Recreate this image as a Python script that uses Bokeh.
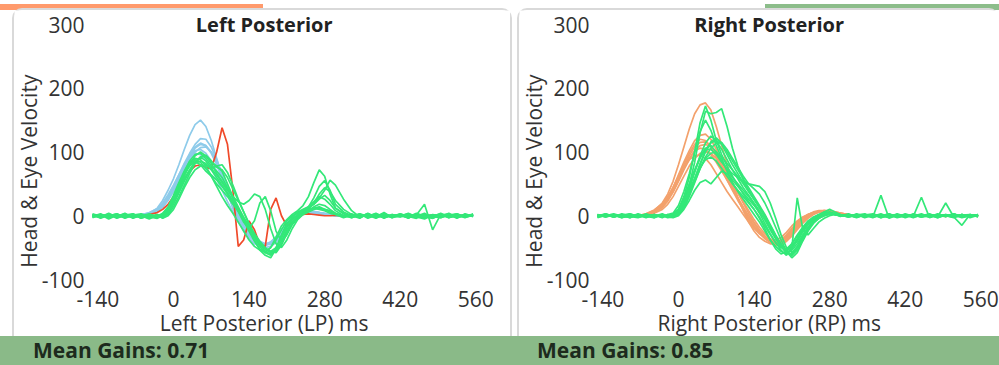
import math
from bokeh.plotting import figure
from bokeh.models import Label, Div, Range1d, FixedTicker, LinearAxis
from bokeh.layouts import column, row
from bokeh.embed import file_html
from bokeh.resources import INLINE

FONT = "Open Sans"

# ---------------- data ----------------
T = [-150, -135, -120, -105, -90, -75, -60, -45, -30,
     -20, -10, 0, 10, 20, 30, 40, 50, 60, 70, 80, 90,
     100, 110, 120, 130, 140, 150, 160, 170, 180, 190, 200, 210,
     220, 230, 240, 250, 260, 270, 280, 290, 300,
     315, 330, 345, 360, 375, 390, 405, 420, 435, 450, 465, 480, 495, 510, 525, 540, 555]

X_TICKS = [-140, 0, 140, 280, 420, 560]
Y_TICKS = [-100, 0, 100, 200, 300]

LEFT_TITLE = "Left Posterior"
RIGHT_TITLE = "Right Posterior"
LEFT_XLABEL = "Left Posterior (LP) ms"
RIGHT_XLABEL = "Right Posterior (RP) ms"
Y_LABEL = "Head & Eye Velocity"
LEFT_GAIN = "Mean Gains: 0.71"
RIGHT_GAIN = "Mean Gains: 0.85"
TOP_GAIN = "Mean Gains: 1.13"

# left panel, head (blue)
left_head = [
    [1, -1, 2, 0, -1, 1, 2, 4, 12,
     24, 40, 58, 80, 104, 126, 143, 150, 140, 118, 90, 62,
     36, 12, -8, -24, -36, -44, -48, -47, -42, -33, -22, -12,
     -4, 2, 5, 6, 6, 5, 3, 2, 1,
     0, 1, -1, 0, 1, 0, -1, 1, 0, -1, 0, 1, 0, -1, 1, 0, 1],
    [0, 2, -1, 1, 0, -2, 1, 3, 9,
     18, 30, 46, 64, 82, 98, 112, 121, 120, 108, 88, 64,
     40, 18, 0, -16, -28, -38, -44, -46, -44, -37, -26, -14,
     -5, 1, 4, 6, 5, 4, 3, 1, 0,
     1, -1, 0, 1, 0, -1, 0, 1, -1, 0, 1, 0, -1, 0, 1, -1, 0],
    [-1, 1, 0, -1, 2, 0, -1, 2, 7,
     15, 27, 42, 60, 78, 95, 108, 114, 110, 100, 84, 66,
     46, 26, 6, -12, -26, -36, -42, -45, -43, -38, -30, -18,
     -8, 0, 4, 6, 7, 5, 3, 2, 1,
     0, -1, 1, 0, -1, 1, 0, -1, 0, 1, 0, -1, 1, 0, -1, 0, 1],
    [1, 0, -2, 1, 0, 1, 0, 2, 6,
     13, 24, 38, 54, 72, 88, 100, 107, 108, 100, 86, 68,
     48, 28, 10, -6, -20, -32, -40, -44, -45, -40, -32, -20,
     -10, -2, 3, 5, 6, 5, 4, 2, 0,
     1, 0, -1, 1, 0, 0, -1, 1, 0, -1, 1, 0, 0, -1, 1, 0, -1],
    [0, -1, 1, 0, -1, 0, 2, 3, 8,
     16, 28, 44, 62, 80, 94, 102, 104, 98, 86, 70, 52,
     34, 16, 0, -14, -26, -36, -42, -44, -42, -36, -26, -14,
     -6, 0, 4, 5, 5, 4, 2, 1, 0,
     -1, 0, 1, 0, -1, 0, 1, 0, -1, 1, 0, -1, 0, 1, 0, -1, 0],
    [1, 0, -1, 2, 0, -1, 1, 5, 11,
     20, 33, 48, 64, 80, 92, 98, 96, 88, 74, 58, 40,
     22, 6, -10, -22, -32, -40, -44, -45, -41, -33, -22, -11,
     -3, 2, 4, 5, 4, 3, 2, 1, 0,
     0, 1, 0, -1, 0, 1, -1, 0, 1, 0, -1, 0, 1, 0, -1, 1, 0],
    [-1, 0, 1, -1, 1, 0, 1, 3, 8,
     15, 26, 40, 57, 76, 93, 106, 112, 110, 98, 80, 58,
     36, 14, -4, -20, -32, -40, -46, -50, -48, -42, -32, -20,
     -9, -1, 4, 6, 6, 5, 3, 2, 1,
     0, 0, -1, 1, 0, -1, 0, 1, 0, -1, 0, 1, -1, 0, 1, 0, 0],
]

# left panel, outlier head trace (red)
left_red = [0, 1, -1, 0, 1, 0, 1, 2, 5,
            10, 18, 30, 44, 58, 70, 78, 80, 76, 74, 100, 138,
            112, 40, -48, -38, -8, -22, -46, -48, 10, 28, 0, -16,
            -10, -2, 2, 3, 2, 1, 0, 0, 1,
            0, -1, 0, 1, 0, -1, 0, 1, 0, 0, -1, 1, 0, -1, 0, 1, 0]

# left panel, eye (green)
left_eye = [
    [-3, 2, -5, 1, -2, 3, -4, 0, -2,
     4, 14, 32, 52, 70, 86, 96, 98, 90, 78, 70, 60,
     44, 28, 10, -8, -24, -40, -52, -58, -50, -34, -16, -6,
     2, 8, 16, 30, 52, 72, 62, 34, 12,
     4, -2, 3, -4, 1, -3, 2, -1, 4, -2, -5, 1, -3, 2, -4, 3, -1],
    [2, -4, 1, -2, 4, -3, 0, -5, 1,
     -2, 6, 20, 38, 56, 72, 84, 92, 86, 74, 78, 70,
     50, 30, 12, -6, -22, -38, -54, -62, -66, -52, -30, -12,
     -4, 0, 6, 14, 28, 46, 55, 40, 18,
     6, 0, -4, 3, -2, 5, -3, 1, -2, 4, -1, -4, 2, -3, 1, -2, 3],
    [-1, 3, -3, 2, -4, 1, 3, -2, -4,
     0, 10, 26, 46, 64, 80, 88, 84, 74, 64, 56, 46,
     34, 20, 6, -10, -20, -8, 20, 30, 8, -24, -40, -30,
     -14, -4, 2, 6, 10, 12, 10, 8, 4,
     0, -3, 2, -1, 3, -4, 2, 0, -3, 1, 18, -22, 2, -1, 3, -2, 0],
    [1, -2, 4, -3, 0, 2, -4, 1, -1,
     -3, 2, 14, 30, 48, 66, 82, 92, 95, 86, 76, 72,
     60, 42, 24, 6, -12, -28, -44, -56, -60, -54, -40, -22,
     -10, -2, 4, 10, 20, 34, 44, 38, 24,
     10, 2, -3, 4, -2, 1, -3, 3, -1, -4, 2, -2, 4, -3, 1, -1, 2],
    [-2, 1, -1, 3, -3, 0, 2, -3, 0,
     3, 12, 30, 50, 66, 78, 85, 80, 70, 62, 50, 40,
     30, 18, 8, -4, -16, -28, -40, -50, -56, -58, -46, -28,
     -12, -2, 4, 8, 12, 14, 10, 6, 2,
     -1, 3, -2, 1, -4, 2, -1, 3, -3, 0, 2, -1, -3, 1, 3, -2, 0],
    [3, -1, 2, -4, 1, -2, 0, 3, -3,
     1, 8, 24, 42, 62, 80, 94, 100, 94, 82, 66, 54,
     42, 30, 14, -2, -18, -34, -48, -58, -62, -50, -32, -14,
     -2, 6, 10, 14, 18, 26, 32, 24, 12,
     3, -3, 1, -1, 4, -2, 0, 2, -4, 3, -1, 1, -2, 4, -3, 0, 1],
    [0, -3, 3, -1, 2, -4, 1, -1, 2,
     -4, 0, 10, 26, 44, 60, 72, 78, 80, 74, 64, 52,
     40, 30, 22, 18, 24, 34, 30, 10, -20, -44, -50, -38,
     -20, -6, 2, 8, 14, 18, 16, 10, 4,
     -2, 2, -1, 3, -3, 1, -2, 0, 3, -1, -3, 2, 0, -2, 1, -3, 2],
    [-1, 2, -2, 0, 3, -3, 2, 0, -1,
     2, 10, 28, 48, 68, 84, 90, 88, 78, 62, 46, 30,
     16, 4, -10, -24, -38, -48, -54, -56, -50, -38, -22, -8,
     0, 4, 8, 10, 12, 10, 8, 4, 2,
     -3, 1, 2, -2, 0, 3, -1, -2, 1, -1, 4, -3, 0, 2, -2, 1, -1],
    [2, -2, 0, 3, -2, 1, -1, -3, 1,
     -1, 4, 18, 36, 54, 70, 84, 92, 94, 84, 78, 80,
     68, 48, 26, 6, -14, -30, -44, -52, -58, -56, -44, -26,
     -10, 0, 6, 12, 18, 28, 40, 56, 48,
     26, 8, -2, 3, -3, 2, -1, 1, -3, 2, -2, 0, 3, -1, -2, 2, 0],
    [-2, 0, 2, -2, 1, 3, -3, 2, -1,
     1, 6, 20, 40, 58, 72, 82, 86, 82, 72, 60, 48,
     36, 24, 10, -4, -18, -30, -42, -52, -56, -50, -36, -18,
     -6, 2, 8, 14, 22, 30, 26, 18, 8,
     0, -2, 3, -1, 2, -3, 1, -1, 2, -2, 0, -4, 1, 3, -2, 0, 2],
]

# right panel, head (orange)
right_head = [
    [0, 1, -1, 0, 1, 0, 3, 8, 20,
     34, 54, 80, 108, 136, 160, 174, 177, 166, 140, 110, 80,
     52, 28, 8, -10, -24, -34, -40, -44, -44, -40, -32, -22,
     -12, -4, 2, 6, 8, 8, 7, 5, 4,
     2, 1, 0, 1, -1, 0, 1, 0, -1, 0, 1, 0, -1, 1, 0, 0, 1],
    [1, 0, -1, 1, 0, 1, 2, 6, 16,
     28, 44, 64, 84, 102, 118, 126, 128, 120, 104, 84, 64,
     46, 28, 12, -4, -16, -26, -34, -40, -42, -40, -34, -24,
     -14, -6, 0, 4, 6, 7, 6, 5, 3,
     2, 0, 1, -1, 0, 1, 0, -1, 1, 0, -1, 0, 1, 0, -1, 1, 0],
    [-1, 0, 1, 0, -1, 1, 2, 7, 17,
     28, 44, 62, 80, 98, 112, 120, 118, 108, 92, 74, 56,
     40, 24, 10, -4, -16, -26, -34, -40, -42, -38, -30, -20,
     -10, -3, 2, 5, 7, 7, 6, 4, 3,
     1, 0, -1, 0, 1, 0, -1, 1, 0, 1, 0, -1, 0, 1, 0, -1, 0],
    [0, -1, 0, 1, 0, -1, 1, 5, 13,
     23, 37, 54, 72, 88, 102, 110, 112, 108, 98, 84, 68,
     52, 36, 20, 4, -10, -22, -32, -40, -44, -44, -38, -28,
     -18, -8, -1, 4, 7, 8, 7, 6, 4,
     2, 1, 0, -1, 0, 1, 0, 0, -1, 1, 0, -1, 1, 0, 0, -1, 1],
    [1, 0, 0, -1, 1, 0, 2, 6, 14,
     24, 38, 56, 74, 90, 102, 106, 104, 96, 84, 70, 56,
     42, 28, 14, 0, -12, -24, -32, -38, -42, -42, -36, -26,
     -16, -8, -2, 3, 6, 7, 6, 4, 2,
     0, 1, -1, 0, 1, 0, -1, 1, 0, 0, -1, 1, 0, -1, 0, 1, 0],
    [0, 1, 0, 0, -1, 1, 1, 4, 10,
     18, 30, 46, 62, 78, 90, 98, 100, 98, 90, 78, 64,
     50, 36, 22, 8, -6, -18, -28, -36, -40, -42, -40, -32,
     -22, -12, -4, 2, 6, 8, 8, 6, 4,
     1, 0, 1, -1, 0, 1, 0, -1, 0, 1, 0, -1, 0, 1, -1, 0, 1],
    [-1, 1, 0, 1, 0, -1, 2, 6, 15,
     26, 40, 58, 76, 94, 108, 115, 116, 110, 96, 78, 60,
     42, 26, 10, -6, -18, -28, -36, -42, -46, -46, -40, -30,
     -20, -10, -2, 3, 6, 7, 6, 5, 3,
     1, -1, 0, 1, 0, -1, 1, 0, 0, -1, 1, 0, -1, 0, 1, 0, -1],
    [0, 0, 1, -1, 1, 0, 3, 9, 19,
     30, 44, 60, 76, 88, 94, 95, 90, 80, 66, 52, 38,
     26, 14, 2, -10, -20, -28, -34, -38, -38, -34, -26, -16,
     -8, -2, 2, 5, 6, 6, 5, 3, 2,
     1, 0, -1, 1, 0, 0, 1, -1, 0, 1, 0, -1, 0, 0, 1, -1, 0],
]

# right panel, eye (green)
right_eye = [
    [-2, 3, -1, 2, -3, 1, -2, 2, -1,
     0, 2, 10, 30, 60, 100, 146, 172, 150, 118, 96, 78,
     62, 48, 34, 22, 10, -4, -20, -38, -52, -60, -56, -44,
     -30, -18, -8, -2, 2, 4, 6, 3, 1,
     -2, 3, -1, 2, -3, 1, 0, -2, 3, -1, 2, -3, 1, -2, 2, -1, 0],
    [1, -2, 2, -3, 0, 2, -1, -3, 2,
     -1, 0, 6, 22, 48, 84, 130, 164, 160, 162, 168, 140,
     106, 78, 56, 40, 26, 14, 0, -16, -32, -46, -54, -48,
     -36, -22, -12, -4, 0, 3, 4, 2, 0,
     1, -2, 2, -1, 3, -2, 0, 1, -3, 2, -1, 0, 2, -2, 1, 0, -1],
    [-1, 2, -2, 1, 3, -2, 0, 1, -3,
     2, 4, 16, 38, 66, 100, 132, 150, 134, 110, 90, 70,
     52, 38, 26, 14, 2, -10, -24, -38, -48, -56, -60, -52,
     -38, -24, -12, -4, 2, 6, 5, 2, -1,
     3, -2, 0, 2, -3, 1, -1, 2, -2, 0, 3, -2, 1, -1, 2, -3, 1],
    [2, -1, 1, -3, 2, -2, 3, -1, 0,
     -3, -2, 4, 16, 36, 58, 80, 100, 116, 122, 114, 100,
     86, 72, 58, 44, 30, 16, 2, -14, -30, -44, -56, -62,
     -50, -34, -20, -10, -4, 0, 3, 2, 0,
     -1, 2, -3, 1, 0, -2, 3, -1, 1, -2, 0, 2, -1, 3, -2, 1, 0],
    [-3, 1, 2, -1, -2, 3, -1, 2, -2,
     1, -2, 2, 12, 30, 52, 74, 92, 106, 114, 115, 104,
     90, 76, 62, 50, 42, 34, 20, 2, -18, -38, -56, -66,
     -58, -40, -24, -12, -4, 2, 4, 2, 0,
     2, -1, 1, -3, 2, 0, -2, 3, -1, 1, -2, 2, 0, -3, 1, 2, -1],
    [0, 2, -2, 3, -1, -3, 1, -2, 2,
     -1, 3, 10, 28, 50, 72, 92, 106, 110, 100, 86, 72,
     60, 50, 40, 30, 18, 4, -12, -28, -42, -54, -62, -50,
     28, -20, -30, -20, -10, -4, 0, 2, 1,
     -2, 1, 3, -2, 0, -1, 2, -3, 1, -2, 2, 0, -1, 3, -2, 0, 1],
    [2, -2, 1, 0, -3, 2, -1, 1, -2,
     0, 1, 8, 24, 46, 70, 90, 104, 104, 96, 84, 74,
     66, 60, 54, 50, 48, 46, 38, 20, -4, -30, -50, -58,
     -48, -32, -18, -8, -2, 2, 3, 2, 0,
     1, -3, 2, 0, -1, 2, -2, 1, -1, 3, -2, 1, 0, -2, 2, -1, 1],
    [-1, 1, -2, 2, 1, -2, 2, -1, 1,
     -2, -3, 0, 10, 24, 40, 52, 56, 50, 60, 70, 66,
     56, 46, 36, 26, 16, 6, -6, -20, -34, -46, -54, -50,
     -40, -26, -14, -6, 0, 4, 4, 2, 1,
     0, 2, -2, 1, -1, 3, -2, 0, 2, -1, 1, -3, 2, 0, -1, 2, -2],
    [1, -1, 2, -2, 0, 1, -3, 2, -1,
     0, 1, 6, 20, 42, 68, 94, 114, 125, 118, 104, 88,
     72, 58, 44, 32, 20, 8, -6, -22, -36, -48, -58, -54,
     -44, -30, -18, -8, -2, 2, 4, 3, 1,
     -1, 2, 0, -2, 32, -4, 1, -1, 2, -2, 0, 1, -1, 3, -2, 0, 2],
    [-2, 0, 3, -1, 2, -2, 1, -1, 3,
     -1, -2, 2, 14, 34, 58, 82, 102, 114, 118, 112, 96,
     80, 66, 52, 38, 26, 14, 0, -16, -32, -46, -56, -62,
     -54, -38, -22, -10, -2, 2, 4, 2, 0,
     1, -2, 2, -1, 0, 3, -2, 1, -1, 29, -3, 1, 0, -2, 2, -1, 1],
    [0, 3, -2, 1, -1, 2, -2, 0, -1,
     2, 0, 4, 16, 34, 54, 74, 90, 98, 100, 92, 82,
     72, 62, 50, 38, 26, 12, -2, -18, -34, -48, -58, -60,
     -50, -36, -22, -10, -4, 0, 2, 4, 2,
     0, -2, 1, 3, -1, 2, -3, 0, 2, -1, 1, -2, 20, -2, -15, 2, 0],
    [-1, 2, 0, -2, 3, -1, 1, -3, 2,
     -2, 2, 8, 22, 40, 58, 76, 88, 92, 86, 74, 62,
     50, 40, 30, 20, 10, -2, -16, -30, -42, -50, -52, -44,
     -32, -20, -10, -4, 0, 6, 10, 6, 2,
     -2, 1, -1, 2, 0, -3, 2, -1, 1, 0, -2, 3, -1, 1, -3, 0, 2],
]

for group in (left_head, left_eye, right_head, right_eye, [left_red]):
    for s in group:
        assert len(s) == len(T), (len(s), len(T))

# ---------------- styling ----------------
BLUE = "#8ecbea"
RED = "#f04a2a"
GREEN = "#33e878"
ORANGE = "#f3a16c"
TEXT = "#333333"
BAR_GREEN = "#8aba88"

PLOT_H = 328
PX_PER_MS = 386 / 715.0      # horizontal scale of the plotting area
PX_PER_UNIT = 255 / 400.0    # vertical scale of the plotting area
LEFT_PAD = 78                # px from panel edge to t = -150
TOP_PAD = 14                 # px from panel top to v = 300


def make_panel(title, xlabel, groups, width, margin, styles):
    x0 = -150 - LEFT_PAD / PX_PER_MS
    x1 = x0 + width / PX_PER_MS
    y1 = 300 + TOP_PAD / PX_PER_UNIT
    y0 = y1 - PLOT_H / PX_PER_UNIT
    p = figure(width=width, height=PLOT_H,
               x_range=Range1d(x0, x1), y_range=Range1d(y0, y1),
               x_axis_location=None, y_axis_location=None,
               output_backend="svg", toolbar_location=None,
               min_border=0, min_border_left=0, min_border_right=0,
               min_border_top=0, min_border_bottom=0,
               margin=margin, styles=styles)
    p.background_fill_color = "white"
    p.border_fill_color = "white"
    p.outline_line_color = None
    p.xgrid.grid_line_color = None
    p.ygrid.grid_line_color = None

    xaxis = LinearAxis(fixed_location=-100, ticker=FixedTicker(ticks=X_TICKS))
    yaxis = LinearAxis(fixed_location=-150, ticker=FixedTicker(ticks=Y_TICKS))
    for ax in (xaxis, yaxis):
        ax.axis_line_color = None
        ax.major_tick_line_color = None
        ax.minor_tick_line_color = None
        ax.major_label_text_font = FONT
        ax.major_label_text_font_size = "21px"
        ax.major_label_text_color = TEXT
    xaxis.major_label_standoff = 5
    yaxis.major_label_standoff = 2
    xaxis.major_label_overrides = {-140: "-140"}
    yaxis.major_label_overrides = {-100: "-100"}
    p.add_layout(xaxis, "below")
    p.add_layout(yaxis, "left")

    for traces, color in groups:
        for s in traces:
            p.line(T, s, line_color=color, line_width=1.7)

    p.add_layout(Label(x=168, y=300, text=title, text_font=FONT,
                       text_font_size="20px", text_font_style="bold",
                       text_color="#222222", text_align="center",
                       text_baseline="middle"))
    p.add_layout(Label(x=168, y=-168, text=xlabel, text_font=FONT,
                       text_font_size="21px", text_color=TEXT,
                       text_align="center", text_baseline="middle"))
    p.add_layout(Label(x=-268, y=70, text=Y_LABEL, text_font=FONT,
                       text_font_size="21px", text_color=TEXT,
                       angle=math.pi / 2, text_align="center",
                       text_baseline="middle"))
    return p


panel_border = {"border": "2px solid #d9d9d9", "border-bottom": "none",
                "border-radius": "10px 10px 0 0", "box-sizing": "border-box"}
left_styles = dict(panel_border)
right_styles = dict(panel_border)
right_styles["border-right"] = "none"

p_left = make_panel(LEFT_TITLE, LEFT_XLABEL,
                    [(left_head, BLUE), ([left_red], RED), (left_eye, GREEN)],
                    500, (0, 5, 0, 12), left_styles)
p_right = make_panel(RIGHT_TITLE, RIGHT_XLABEL,
                     [(right_head, ORANGE), (right_eye, GREEN)],
                     482, (0, 0, 0, 0), right_styles)

top_html = (
    '<div style="position:relative;width:999px;height:8px;overflow:hidden;">'
    '<div style="position:absolute;left:0;top:0;width:263px;height:6px;background:#ff9a6c;"></div>'
    '<div style="position:absolute;left:765px;top:0;width:234px;height:6px;background:#8cbd8a;overflow:hidden;">'
    '<span style="position:absolute;left:24px;top:-20px;font-family:\'Open Sans\';font-weight:bold;'
    'font-size:21px;line-height:24px;color:#1d2b1d;white-space:nowrap;">' + TOP_GAIN + '</span></div></div>'
)
top = Div(text=top_html, width=999, height=8, margin=(0, 0, 0, 0))

bottom_html = (
    '<div style="position:relative;width:999px;height:29px;background:' + BAR_GREEN + ';'
    'font-family:\'Open Sans\';font-weight:bold;font-size:21px;color:#1d2b1d;line-height:29px;">'
    '<span style="position:absolute;left:33px;top:0;white-space:nowrap;">' + LEFT_GAIN + '</span>'
    '<span style="position:absolute;left:537px;top:0;white-space:nowrap;">' + RIGHT_GAIN + '</span>'
    '</div>'
)
bottom = Div(text=bottom_html, width=999, height=29, margin=(0, 0, 0, 0))

layout = column(top, row(p_left, p_right, spacing=0), bottom, spacing=0)

open("out.html", "w").write(file_html(layout, INLINE))
